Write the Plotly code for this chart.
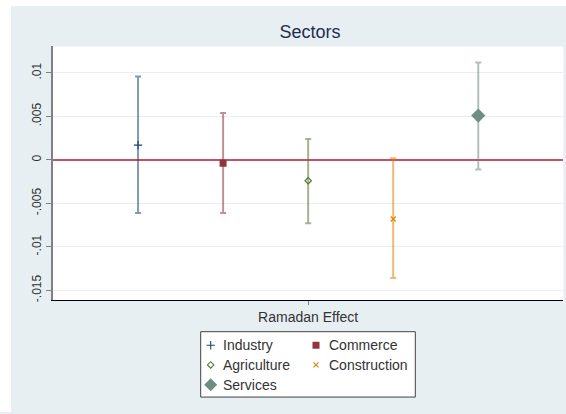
import plotly.graph_objects as go

# Point estimates and 95% confidence bounds of the Ramadan effect by sector
sectors = ["Industry", "Commerce", "Agriculture", "Construction", "Services"]
estimate = [0.0017, -0.0004, -0.0024, -0.0068, 0.0051]
ci_low = [-0.0061, -0.0061, -0.0073, -0.0136, -0.0011]
ci_high = [0.0096, 0.0054, 0.0024, 0.0002, 0.0112]

y_tick_vals = [-0.015, -0.01, -0.005, 0, 0.005, 0.01]
y_tick_text = ["-.015", "-.01", "-.005", "0", ".005", ".01"]
x_label = "Ramadan Effect"
title_text = "Sectors"

# Stata s2color-like styling per series
colors = ["#1a476f", "#90353b", "#55752f", "#e37e00", "#6e8e84"]
symbols = ["cross-thin", "square", "diamond-open", "x-thin", "diamond"]
sizes = [6, 7, 5, 5, 11]
line_widths = [1.1, 0, 1.1, 1.1, 0]

W, H = 566, 414
BG = "#e8eff2"
FONT = "Liberation Sans, Arial, sans-serif"
TEXT = "#333333"

# plot area in pixels
pl, pr, pt, pb = 53, 563.3, 46.7, 301.7


def rgba(hex_color, a):
    h = hex_color.lstrip("#")
    r, g, b = int(h[0:2], 16), int(h[2:4], 16), int(h[4:6], 16)
    return f"rgba({r},{g},{b},{a})"


fig = go.Figure()

n = len(sectors)
for i, name in enumerate(sectors):
    xpos = i - (n - 1) / 2
    fig.add_trace(go.Scatter(
        x=[xpos], y=[estimate[i]], mode="markers", name=name, showlegend=False,
        marker=dict(symbol=symbols[i], size=sizes[i], color=colors[i],
                    line=dict(color=colors[i], width=line_widths[i])),
        error_y=dict(type="data", symmetric=False,
                     array=[ci_high[i] - estimate[i]],
                     arrayminus=[estimate[i] - ci_low[i]],
                     color=rgba(colors[i], 0.55), thickness=2, width=3),
        xaxis="x", yaxis="y",
    ))

# Legend panel drawn on its own pixel-scaled axes
lg_l, lg_r, lg_t, lg_b = 200.7, 415.3, 333.3, 399.0
col_x = [10.0, 115.3]
row_y = [13.7, 33.4, 53.4]
text_dx = 10.5

annotations = []
for i, name in enumerate(sectors):
    cx = col_x[i % 2]
    ry = row_y[i // 2]
    fig.add_trace(go.Scatter(
        x=[cx], y=[ry], mode="markers", showlegend=False, hoverinfo="skip",
        marker=dict(symbol=symbols[i], size=sizes[i] - (1 if i == 4 else 0), color=colors[i],
                    line=dict(color=colors[i], width=line_widths[i])),
        xaxis="x2", yaxis="y2",
    ))
    annotations.append(dict(
        x=cx + text_dx, y=ry, xref="x2", yref="y2", text=name, showarrow=False,
        xanchor="left", yanchor="middle", font=dict(family=FONT, size=14, color=TEXT),
    ))

shapes = [
    # white page strips outside the graph region
    dict(type="rect", xref="paper", yref="paper", x0=0, x1=11 / W, y0=0, y1=1,
         fillcolor="white", line=dict(width=0), layer="below"),
    dict(type="rect", xref="paper", yref="paper", x0=0, x1=1, y0=1 - 6 / H, y1=1,
         fillcolor="white", line=dict(width=0), layer="below"),
    # legend frame
    dict(type="rect", xref="paper", yref="paper",
         x0=lg_l / W, x1=lg_r / W, y0=(H - lg_b) / H, y1=(H - lg_t) / H,
         fillcolor="white", line=dict(color="#404040", width=1), layer="below"),
]

fig.update_layout(
    width=W, height=H,
    margin=dict(l=0, r=0, t=0, b=0, pad=0),
    paper_bgcolor=BG, plot_bgcolor="white",
    showlegend=False,
    font=dict(family=FONT, color=TEXT),
    title=dict(text=title_text, x=310 / W, xanchor="center", y=1 - 32 / H, yanchor="middle",
               yref="container", font=dict(family=FONT, size=18, color="#1e2d4e")),
    xaxis=dict(domain=[pl / W, pr / W], anchor="y", range=[-3, 3],
               tickvals=[0], ticktext=[x_label], ticks="outside", ticklen=4,
               tickcolor="#808080", showline=True, linecolor="black", linewidth=1,
               showgrid=False, zeroline=False, fixedrange=True,
               tickfont=dict(family=FONT, size=14, color=TEXT)),
    yaxis=dict(domain=[(H - pb) / H, (H - pt) / H], anchor="x",
               range=[-0.016145, 0.013045], tickvals=y_tick_vals, ticktext=y_tick_text,
               tickangle=-90, ticks="outside", ticklen=5, tickcolor="#808080",
               showline=True, linecolor="#808080", linewidth=1.5,
               showgrid=True, gridcolor=BG, gridwidth=1,
               zeroline=True, zerolinecolor="#c8505f", zerolinewidth=1.6,
               fixedrange=True, tickfont=dict(family=FONT, size=12, color=TEXT)),
    xaxis2=dict(domain=[lg_l / W, lg_r / W], anchor="y2", range=[0, lg_r - lg_l],
                visible=False, fixedrange=True),
    yaxis2=dict(domain=[(H - lg_b) / H, (H - lg_t) / H], anchor="x2",
                range=[lg_b - lg_t, 0], visible=False, fixedrange=True),
    shapes=shapes,
    annotations=annotations,
)

fig.write_html("out.html")
